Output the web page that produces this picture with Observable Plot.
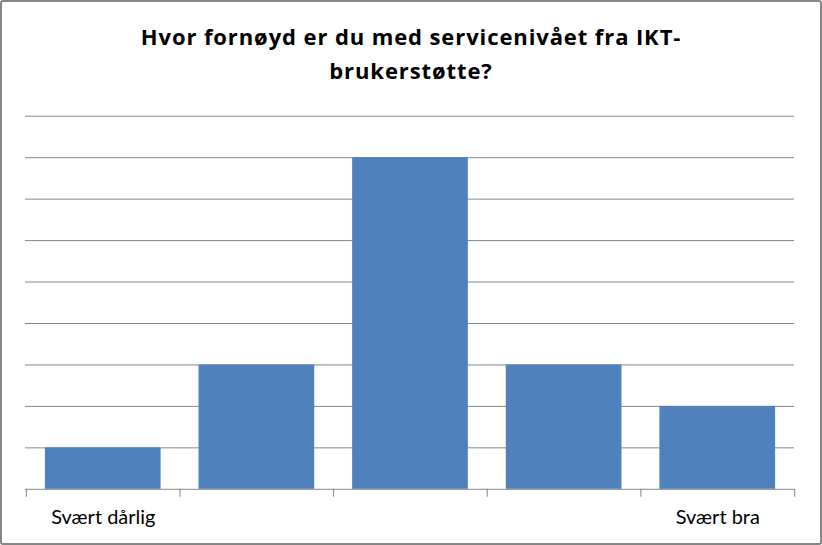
<!DOCTYPE html>
<html>
<head>
<meta charset="utf-8">
<script src="https://cdn.jsdelivr.net/npm/d3@7"></script>
<script src="https://cdn.jsdelivr.net/npm/@observablehq/plot@0.6"></script>
<style>
  html, body { margin: 0; padding: 0; background: #fff; }
  #wrap { position: relative; width: 822px; height: 545px; box-sizing: border-box; border: 2px solid #868686; border-radius: 3px; overflow: hidden; }
  #title { position: absolute; left: 0; top: 17px; width: 818px; text-align: center; font-family: "Open Sans", sans-serif; font-weight: bold; font-size: 22px; letter-spacing: 0.9px; line-height: 34px; color: #000; }
  #chart { position: absolute; left: -2px; top: -2px; }
</style>
</head>
<body>
<div id="wrap">
  <div id="title">Hvor fornøyd er du med servicenivået fra IKT-<br>brukerstøtte?</div>
  <div id="chart"></div>
</div>
<script>
const categories = ["1", "2", "3", "4", "5"];
const counts = [1, 3, 8, 3, 2];
const tickLabels = ["Svært dårlig", "", "", "", "Svært bra"];
const yTicks = [0, 1, 2, 3, 4, 5, 6, 7, 8, 9];

const data = categories.map((c, i) => ({category: c, count: counts[i]}));

const W = 822, H = 545, ml = 25, mr = 26, mt = 116, mb = 55;
const step = (W - ml - mr) / categories.length;

const plot = Plot.plot({
  width: W,
  height: H,
  marginLeft: ml,
  marginRight: mr,
  marginTop: mt,
  marginBottom: mb,
  style: {background: "transparent", fontFamily: "Lato, sans-serif"},
  x: {domain: categories, paddingInner: 0.25, paddingOuter: 0.125, axis: null},
  y: {domain: [0, 9], axis: null},
  marks: [
    Plot.gridY(yTicks, {stroke: "#868686", strokeOpacity: 1, strokeWidth: 1}),
    Plot.barY(data, {x: "category", y: "count", fill: "#4F81BD"}),
    Plot.axisX(categories, {tickSize: 8, stroke: "#868686", strokeOpacity: 1, dx: -step / 2, text: null, label: null}),
    Plot.axisX([categories[categories.length - 1]], {tickSize: 8, stroke: "#868686", strokeOpacity: 1, dx: step / 2, text: null, label: null}),
    Plot.axisX(categories, {tickSize: 0, tickPadding: 21, tickFormat: (d) => tickLabels[categories.indexOf(d)], fontSize: 20, fill: "#000", label: null})
  ]
});
document.getElementById("chart").appendChild(plot);
</script>
</body>
</html>
